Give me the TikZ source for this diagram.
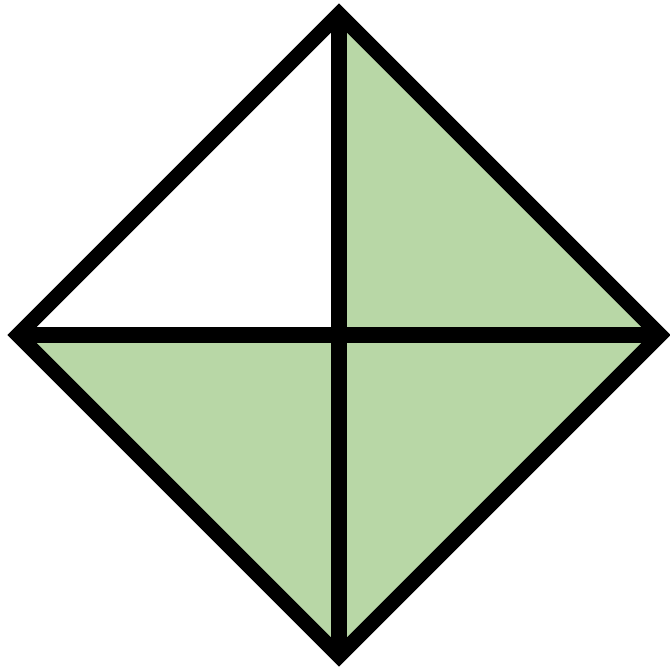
\documentclass[tikz,border=0pt]{standalone}
\usepackage{tikz}
\usetikzlibrary{calc}
\definecolor{leafgreen}{HTML}{B8D7A6}

\begin{document}
\begin{tikzpicture}[x=1cm,y=1cm]
    \useasboundingbox (0,0) rectangle (6.7,6.7);
    \coordinate (C) at (3.39,3.35);
    \coordinate (T) at (3.39,6.56);
    \coordinate (B) at (3.39,0.14);
    \coordinate (L) at (0.18,3.35);
    \coordinate (R) at (6.60,3.35);
    % three shaded quarters
    \fill[leafgreen] (C) -- (T) -- (R) -- cycle;
    \fill[leafgreen] (C) -- (R) -- (B) -- cycle;
    \fill[leafgreen] (C) -- (B) -- (L) -- cycle;
    % outline and cross
    \draw[line width=4.3pt, line join=miter] (T) -- (R) -- (B) -- (L) -- cycle;
    \draw[line width=4.3pt] (T) -- (B);
    \draw[line width=4.3pt] (L) -- (R);
\end{tikzpicture}
\end{document}
